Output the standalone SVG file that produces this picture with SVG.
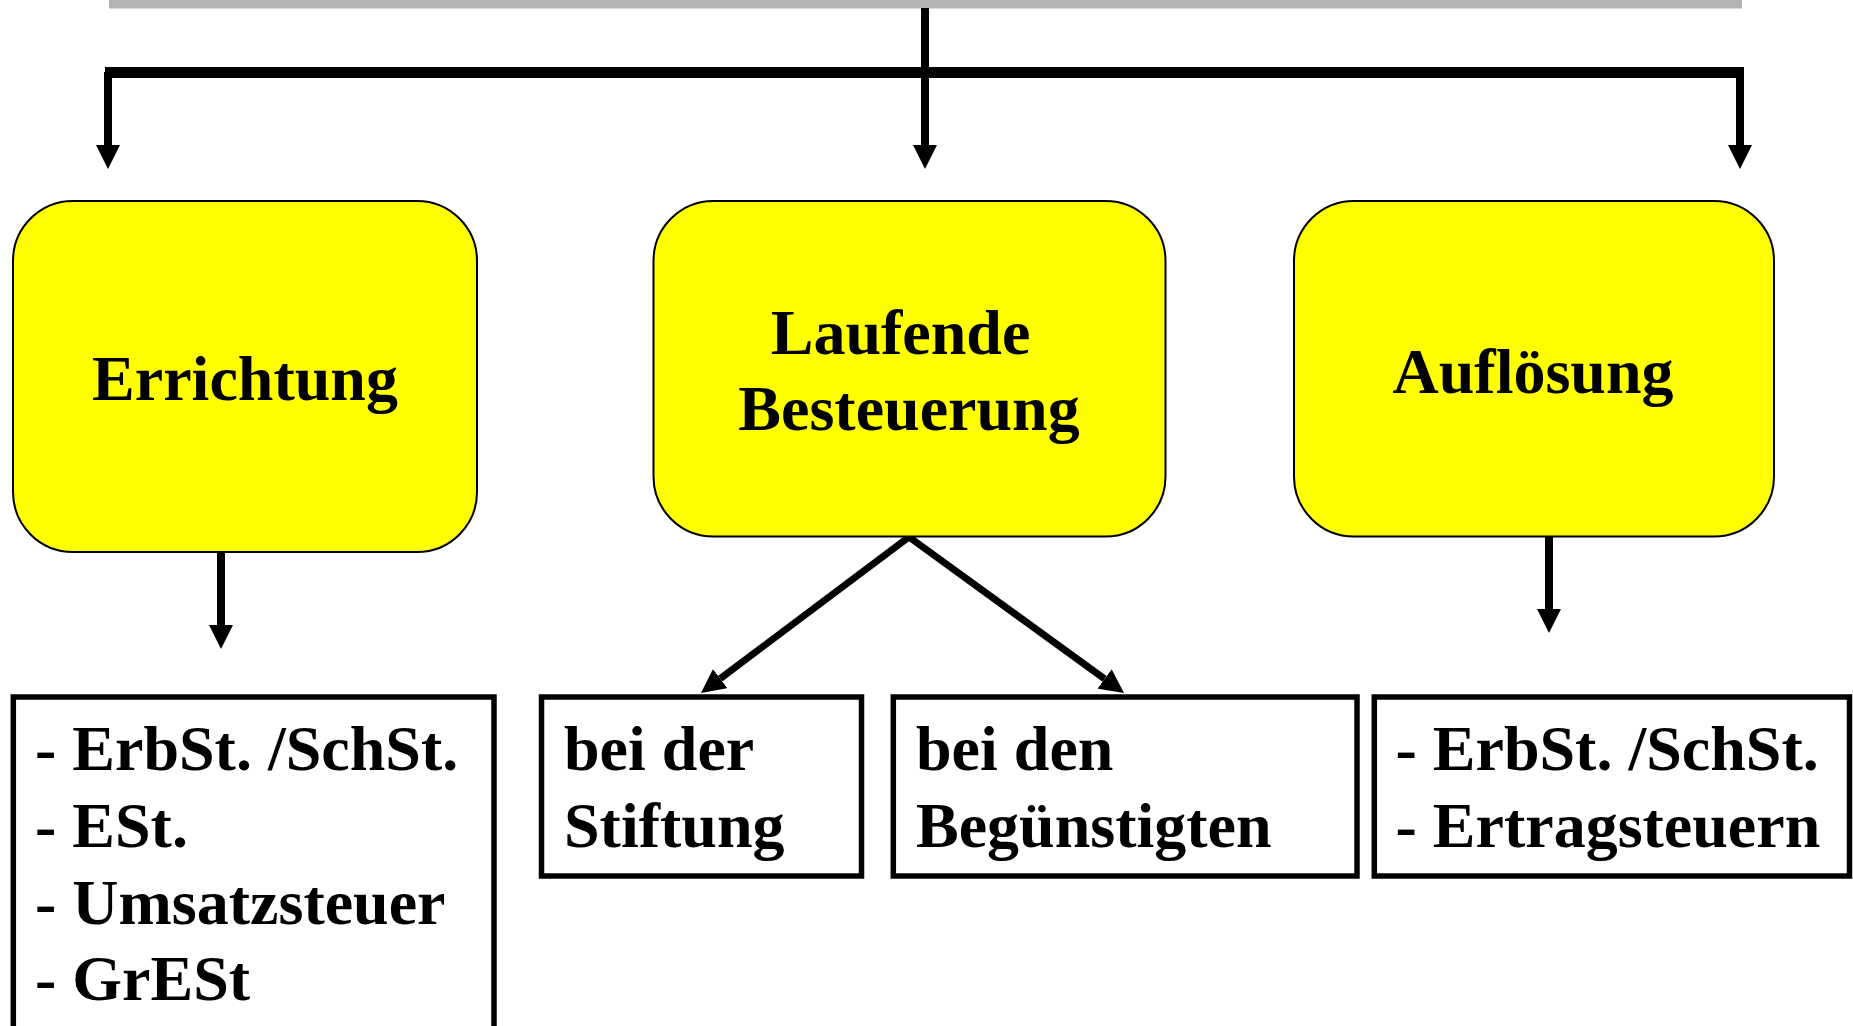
<svg xmlns="http://www.w3.org/2000/svg" width="1853" height="1026" viewBox="0 0 1853 1026">
<style>
.phase{fill:#ffff00;stroke:#000;stroke-width:2}
.box{fill:#fff;stroke:#000;stroke-width:5.5}
.t{font-family:"Liberation Serif","Times New Roman",serif;font-weight:bold;font-size:64px;fill:#000}
.c{text-anchor:middle}
.ln{stroke:#000;fill:none}
</style>
<defs>
<marker id="ah" viewBox="0 0 24 24" markerWidth="24" markerHeight="24" markerUnits="userSpaceOnUse" refX="0" refY="12" orient="auto">
<path d="M0,0 L24,12 L0,24 z" fill="#000"/>
</marker>
</defs>
<rect x="109" y="0" width="1633" height="8.5" fill="#b3b3b3"/>
<g id="connectors">
<line class="ln" x1="925" y1="8" x2="925" y2="72" stroke-width="8"/>
<rect x="105" y="67" width="1639" height="11" fill="#000"/>
<line class="ln" x1="108" y1="72" x2="108" y2="145" stroke-width="8" marker-end="url(#ah)"/>
<line class="ln" x1="925" y1="72" x2="925" y2="145" stroke-width="8" marker-end="url(#ah)"/>
<line class="ln" x1="1740" y1="72" x2="1740" y2="145" stroke-width="8" marker-end="url(#ah)"/>
<line class="ln" x1="221" y1="552" x2="221" y2="625" stroke-width="8" marker-end="url(#ah)"/>
<line class="ln" x1="1549" y1="536" x2="1549" y2="609" stroke-width="8" marker-end="url(#ah)"/>
<line class="ln" x1="909" y1="537" x2="720.2" y2="678.6" stroke-width="7" marker-end="url(#ah)"/>
<line class="ln" x1="909" y1="537" x2="1104.6" y2="678.9" stroke-width="7" marker-end="url(#ah)"/>
</g>
<g id="errichtung">
<rect class="phase" x="13" y="201" width="464" height="351" rx="60" ry="60"/>
<text class="t c" x="245" y="400">Errichtung</text>
</g>
<g id="laufende">
<rect class="phase" x="653.5" y="201" width="512" height="335.5" rx="60" ry="60"/>
<text class="t c" x="900.5" y="354">Laufende</text>
<text class="t c" x="909" y="430">Besteuerung</text>
</g>
<g id="aufloesung">
<rect class="phase" x="1294" y="201" width="480" height="335.5" rx="60" ry="60"/>
<text class="t c" x="1533" y="392.5">Auflösung</text>
</g>
<g id="errichtung-steuern">
<rect class="box" x="13.3" y="697" width="480.7" height="360"/>
<text class="t" x="35" y="770">- ErbSt. /SchSt.</text>
<text class="t" x="35" y="847">- ESt.</text>
<text class="t" x="35" y="923.5">- Umsatzsteuer</text>
<text class="t" x="35" y="1000">- GrESt</text>
</g>
<g id="bei-der-stiftung">
<rect class="box" x="541.5" y="697" width="320" height="179"/>
<text class="t" x="564" y="770">bei der</text>
<text class="t" x="564" y="847">Stiftung</text>
</g>
<g id="bei-den-beguenstigten">
<rect class="box" x="893.3" y="697" width="463.7" height="179"/>
<text class="t" x="916" y="770">bei den</text>
<text class="t" x="916" y="847">Begünstigten</text>
</g>
<g id="aufloesung-steuern">
<rect class="box" x="1374.3" y="697" width="475.2" height="179"/>
<text class="t" x="1395.5" y="770">- ErbSt. /SchSt.</text>
<text class="t" x="1395.5" y="847">- Ertragsteuern</text>
</g>
</svg>
